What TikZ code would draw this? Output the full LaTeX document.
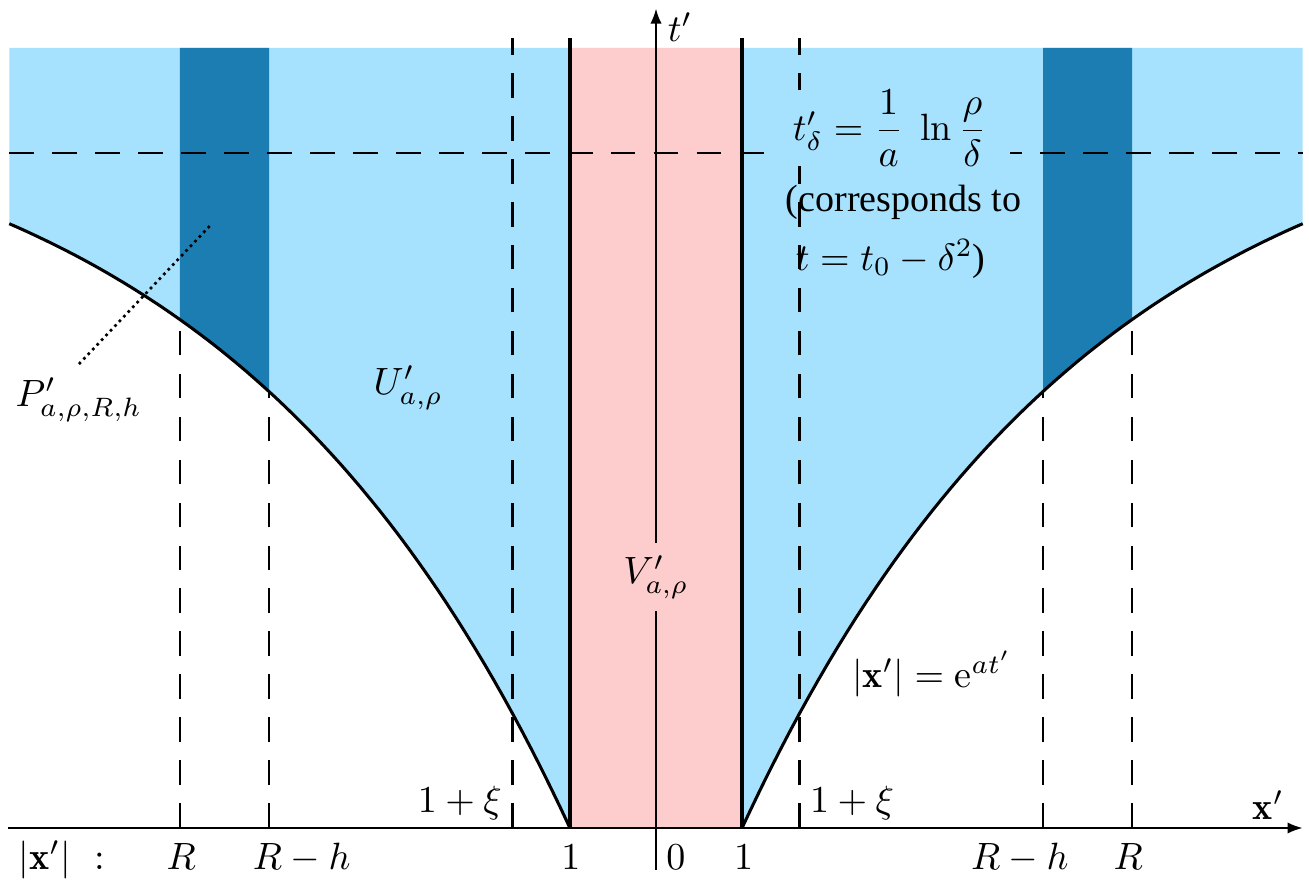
\documentclass[tikz,border=0pt]{standalone}
\usepackage{amsmath}
\usepackage{fontspec}
\newfontfamily\timesfont{Liberation Serif}
\usetikzlibrary{arrows.meta}
\definecolor{regblue}{RGB}{166,226,254}
\definecolor{stripblue}{RGB}{27,125,178}
\definecolor{regpink}{RGB}{253,204,204}

\begin{document}
\begin{tikzpicture}[
  x=0.795cm, y=0.795cm,
  >={Latex[length=4pt,width=3pt]},
  declare function={H(\u)=8.8*(1-exp(-0.2457*(abs(\u)-1)));},
  region/.style={fill=regblue},
  strip/.style ={fill=stripblue},
  core/.style  ={fill=regpink},
  guide/.style ={line width=0.6pt, dash pattern=on 6.5pt off 4.8pt},
  bound/.style ={line width=0.8pt},
  wall/.style  ={line width=1pt},
  axis/.style  ={->, line width=0.6pt},
]
\useasboundingbox (-7.628,-0.616) rectangle (7.593,9.628);
% regions
\fill[region] (-7.52,9.07) -- (7.52,9.07) -- plot[domain=7.52:1, samples=60] (\x,{H(\x)})
  -- plot[domain=-1:-7.52, samples=60] (\x,{H(\x)}) -- cycle;
\fill[strip] (-5.535,9.07) -- (-4.5,9.07) -- plot[domain=-4.5:-5.535, samples=20] (\x,{H(\x)}) -- cycle;
\fill[strip] (4.5,9.07) -- (5.535,9.07) -- plot[domain=5.535:4.5, samples=20] (\x,{H(\x)}) -- cycle;
\fill[core] (-1,0) rectangle (1,9.07);
% guides
\draw[guide] (-7.52,7.85) -- (7.52,7.85);
\foreach \s in {-1,1} {
  \draw[guide] (\s*1.67,0) -- (\s*1.67,9.19);
  \draw[guide] (\s*4.5,0) -- (\s*4.5,{H(4.5)});
  \draw[guide] (\s*5.535,0) -- (\s*5.535,{H(5.535)});
}
% boundary |x'| = e^{at'}
\draw[bound] plot[domain=-7.52:-1, samples=60] (\x,{H(\x)});
\draw[bound] plot[domain=1:7.52, samples=60] (\x,{H(\x)});
\draw[wall] (-1,0) -- (-1,9.19);
\draw[wall] (1,0) -- (1,9.19);
% axes
\draw[axis] (-7.53,0) -- (7.52,0);
\draw[axis] (0,-0.49) -- (0,9.53);
\node (tlab) at (0.28,9.31) {$t'$};
\node (xlab) at (7.12,0.27) {$\mathbf{x}'$};
% region labels
\node[fill=regblue, inner xsep=6pt, inner ysep=0pt] (tdelta) at (2.72,8.14) {$t'_\delta = \dfrac{1}{a}\;\ln\dfrac{\rho}{\delta}$};
\node[inner sep=0pt] (corr) at (2.88,7.28) {\timesfont (corresponds to};
\node[inner sep=0pt] (tzero) at (2.73,6.62) {$t = t_0 - \delta^2${\timesfont )}};
\node (ulab) at (-2.88,5.12) {$U'_{a,\rho}$};
\node[fill=regpink] (vlab) at (0,2.92) {$V'_{a,\rho}$};
\node (curve) at (3.21,1.79) {$|\mathbf{x}'| = \mathrm{e}^{at'}$};
\node (plab) at (-6.71,4.98) {$P'_{a,\rho,R,h}$};
\coordinate (pdot) at (-5.16,7.03);
\draw[densely dotted, line width=0.7pt] (plab.north) -- (pdot);
% tick labels
\node[anchor=base] (xil) at (-2.28,0.186) {$1+\xi$};
\node[anchor=base] (xir) at (2.28,0.186) {$1+\xi$};
\node[anchor=base] (absx) at (-6.91,-0.477) {$|\mathbf{x}'|\ :$};
\node[anchor=base] (rl)  at (-5.52,-0.477) {$R$};
\node[anchor=base] (rhl) at (-4.12,-0.477) {$R-h$};
\node[anchor=base] (onel) at (-0.99,-0.477) {$1$};
\node[anchor=base] (zero) at (0.23,-0.477) {$0$};
\node[anchor=base] (oner) at (1.02,-0.477) {$1$};
\node[anchor=base] (rhr) at (4.23,-0.477) {$R-h$};
\node[anchor=base] (rr)  at (5.49,-0.477) {$R$};
\end{tikzpicture}
\end{document}
